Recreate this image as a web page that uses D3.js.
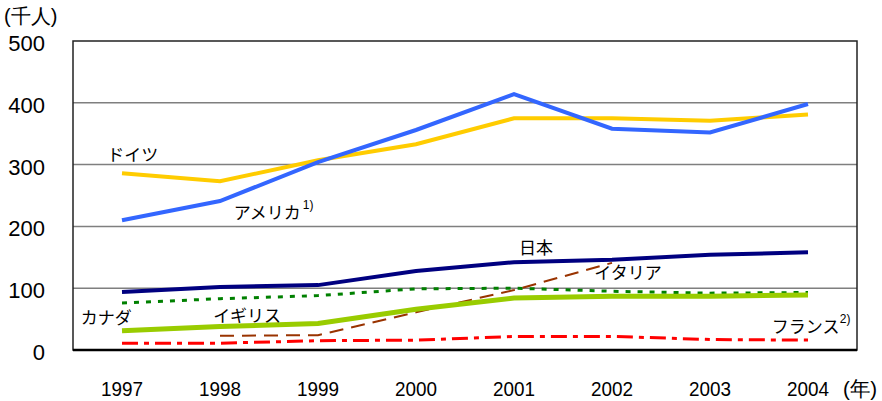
<!DOCTYPE html>
<html>
<head>
  <meta charset='utf-8'>
  <script src="https://d3js.org/d3.v7.min.js"></script>
  <style>
    body { margin: 0; background: #fff; }
    text { font-family: "Liberation Sans", Arial, sans-serif; fill: #000; }
    .jp { font-family: "Noto Sans CJK JP", sans-serif; font-size: 17px; }
  </style>
</head>
<body>
<div id='chart'></div>
<script>
  // data (thousand people)
  var years = ['1997', '1998', '1999', '2000', '2001', '2002', '2003', '2004'];
  var yTicks = [0, 100, 200, 300, 400, 500];
  var germany = [286, 273, 307, 333, 375, 375, 371, 381];
  var usa = [210, 241, 304, 356, 414, 358, 352, 398];
  var japan = [94, 102, 105, 128, 142, 146, 154, 158];
  var canada = [76, 83, 88, 99, 100, 95, 92, 93];
  var uk = [31, 38, 43, 66, 84, 87, 87, 89];
  var italy = [null, 23, 24, 61, 97, 141, null, null];
  var france = [11, 11, 15, 16, 22, 22, 17, 16];

  var width = 882, height = 401;
  var plotLeft = 73, plotRight = 857, plotTop = 41, plotBottom = 350;

  var svg = d3.select('#chart').append('svg')
    .attr('width', width)
    .attr('height', height);

  var x = d3.scalePoint().domain(years).range([plotLeft, plotRight]).padding(0.5);
  var y = d3.scaleLinear().domain([0, 500]).range([plotBottom, plotTop]);

  // gridlines
  svg.append('g').selectAll('line')
    .data(yTicks.filter(function(d) { return d > 0 && d < 500; }))
    .enter().append('line')
    .attr('x1', plotLeft).attr('x2', plotRight)
    .attr('y1', function(d) { return y(d); })
    .attr('y2', function(d) { return y(d); })
    .attr('stroke', '#7f7f7f')
    .attr('stroke-width', 1.5);

  svg.append('rect')
    .attr('x', plotLeft).attr('y', plotTop)
    .attr('width', plotRight - plotLeft).attr('height', plotBottom - plotTop)
    .attr('fill', 'none')
    .attr('stroke', '#222')
    .attr('stroke-width', 1.5);

  svg.append('line')
    .attr('x1', plotLeft).attr('x2', plotRight)
    .attr('y1', plotBottom).attr('y2', plotBottom)
    .attr('stroke', '#000').attr('stroke-width', 2.5);

  // y labels
  svg.append('g').selectAll('text')
    .data(yTicks).enter().append('text')
    .attr('x', 45)
    .attr('y', function(d) { return y(d) + 2; })
    .attr('dy', '0.36em')
    .attr('text-anchor', 'end')
    .style('font-size', '22px')
    .text(function(d) { return d; });

  svg.append('text').attr('x', 4).attr('y', 23)
    .style('font-size', '20px').text('(千人)');

  // x labels
  svg.append('g').selectAll('text')
    .data(years).enter().append('text')
    .attr('x', function(d) { return x(d); })
    .attr('y', 388)
    .attr('dy', '0.36em')
    .attr('text-anchor', 'middle')
    .attr('textLength', 42)
    .attr('lengthAdjust', 'spacingAndGlyphs')
    .style('font-size', '21px')
    .text(function(d) { return d; });

  svg.append('text').attr('x', 843).attr('y', 388).attr('dy', '0.36em')
    .attr('textLength', 34).attr('lengthAdjust', 'spacingAndGlyphs')
    .style('font-size', '21px').text('(年)');

  var series = [
    { vals: canada, color: '#008000', w: 3, dash: '5,7' },
    { vals: italy, color: '#993300', w: 2, dash: '14,8' },
    { vals: france, color: '#ff0000', w: 3, dash: '16,6,5,6' },
    { vals: uk, color: '#99cc00', w: 5, dash: null },
    { vals: japan, color: '#000080', w: 4, dash: null },
    { vals: germany, color: '#ffcc00', w: 4, dash: null },
    { vals: usa, color: '#3366ff', w: 4, dash: null }
  ];

  var line = d3.line()
    .defined(function(d) { return d != null; })
    .x(function(d, i) { return x(years[i]); })
    .y(function(d) { return y(d); });

  svg.append('g').selectAll('path')
    .data(series).enter().append('path')
    .attr('d', function(s) { return line(s.vals); })
    .attr('fill', 'none')
    .attr('stroke', function(s) { return s.color; })
    .attr('stroke-width', function(s) { return s.w; })
    .attr('stroke-dasharray', function(s) { return s.dash; });

  // series labels: [text, year index offset, value]
  var labels = [
    ['ドイツ', -0.15, 316],
    ['アメリカ', 1.14, 222],
    ['日本', 4.05, 166],
    ['イタリア', 4.82, 125],
    ['カナダ', -0.42, 52],
    ['イギリス', 0.93, 56],
    ['フランス', 6.63, 37]
  ];
  var step = x.step();
  svg.append('g').selectAll('text')
    .data(labels).enter().append('text')
    .attr('class', 'jp')
    .attr('x', function(d) { return x(years[0]) + d[1] * step; })
    .attr('y', function(d) { return y(d[2]); })
    .attr('dy', '0.36em')
    .text(function(d) { return d[0]; });

  // footnote marks
  svg.append('text').attr('x', x(years[0]) + 1.14 * step + 69).attr('y', y(222) - 4)
    .style('font-size', '12px').text('1)');
  svg.append('text').attr('x', x(years[0]) + 6.63 * step + 68).attr('y', y(37) - 4)
    .style('font-size', '12px').text('2)');
</script>
</body>
</html>
